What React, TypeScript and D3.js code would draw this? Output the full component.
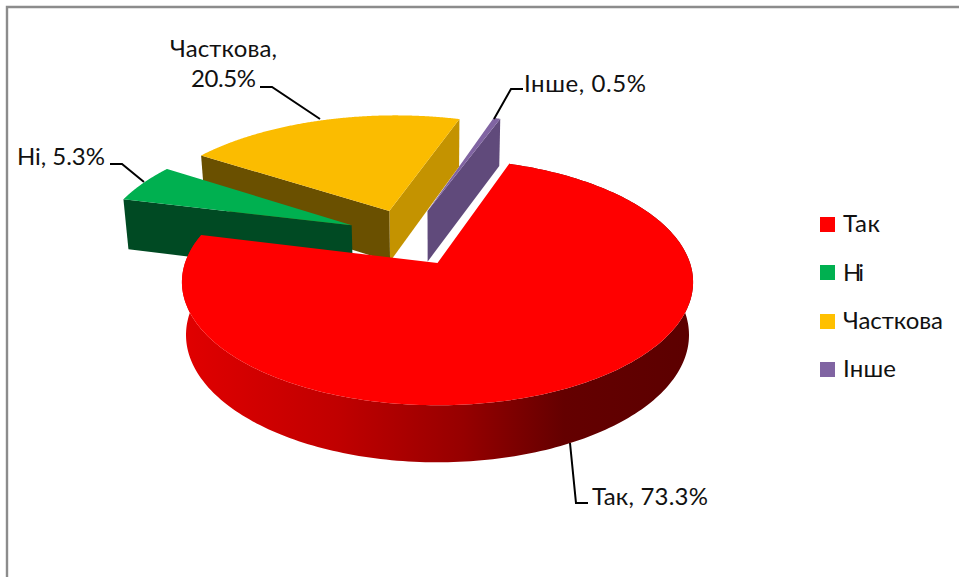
import React from "react";
import * as d3 from "d3";

const categories = ["Так", "Ні", "Часткова", "Інше"];
const values = [73.3, 5.3, 20.5, 0.5];
const percentLabels = ["73.3%", "5.3%", "20.5%", "0.5%"];

const topColors = ["#ff0000", "#00b050", "#fbbc00", "#8064a2"];
const FONT = "Lato, Carlito, Calibri, sans-serif";

// projection of the pie's plane (u right, v toward the viewer)
const CX = 437.5, CY = 263, RX = 252, RY = 120, K = 0.1545, SHRINK = 0.016;
const explode = [[0, 0], [-0.358, -0.33], [-0.205, -0.464], [-0.0425, -0.464]];
const radii = [1.002, 1.03, 1.055, 1.07];

type P = [number, number];
const project = (u: number, v: number, z = 0): P => {
  const w = 1 - K * v;
  return [CX + (RX * u / w) * (1 - SHRINK * z), CY + RY * v / w + (25.9 + 26.3 / w) * z];
};
const polar = (i: number, a: number, z = 0): P => {
  const [ox, oy] = explode[i];
  return project(ox + radii[i] * Math.sin(a), oy - radii[i] * Math.cos(a), z);
};
const apex = (i: number, z = 0): P => project(explode[i][0], explode[i][1], z);
const line = d3.line<P>();
const closed = (pts: P[]) => line(pts) + "Z";
const arcPts = (i: number, a0: number, a1: number, z = 0): P[] =>
  d3.range(0, 241).map((t) => polar(i, a0 + ((a1 - a0) * t) / 240, z));

const arcs = d3.pie<number>().sort(null).startAngle((19 * Math.PI) / 180).endAngle((379 * Math.PI) / 180)(values);

const radial = (i: number, a: number) =>
  closed([apex(i), polar(i, a), polar(i, a, 1), apex(i, 1)]);
const topFace = (i: number) =>
  closed([apex(i), ...arcPts(i, arcs[i].startAngle, arcs[i].endAngle)]);
// the rim as a run of small quads, so its silhouette follows both edges
const rim = (i: number) => {
  const { startAngle: a, endAngle: b } = arcs[i];
  const top = arcPts(i, a, b);
  const bottom = arcPts(i, a, b, 1);
  return top
    .slice(1)
    .map((p, k) => closed([top[k], p, bottom[k + 1], bottom[k]]))
    .join("");
};

const legendY = [217, 265, 314, 362];
const legendBase = [232, 281, 329, 377];
const legendWidths = [37, 21, 100, 53];

export default function App() {
  const textStyle = { fontFamily: FONT, fontSize: 24, fill: "#111" };
  const leader = { fill: "none", stroke: "#000", strokeWidth: 2 };
  return (
    <svg width={959} height={577} style={{ position: "fixed", left: 0, top: 0, background: "#fff" }}>
      <defs>
        <linearGradient id="rimGrad" gradientUnits="userSpaceOnUse" x1={186} x2={690} y1={0} y2={0}>
          <stop offset="0" stopColor="#e00000" />
          <stop offset="0.3" stopColor="#c00000" />
          <stop offset="0.55" stopColor="#960000" />
          <stop offset="0.75" stopColor="#640000" />
          <stop offset="1" stopColor="#5c0000" />
        </linearGradient>
      </defs>
      <path d="M7 577V7H959" fill="none" stroke="#8c8c8c" strokeWidth={2.4} />

      {/* Інше */}
      <path d={radial(3, arcs[3].endAngle)} fill="#604a7b" />
      <path d={topFace(3)} fill={topColors[3]} />
      {/* Часткова */}
      <path d={radial(2, arcs[2].endAngle)} fill="#c49300" />
      <path d={radial(2, arcs[2].startAngle)} fill="#6a5000" />
      <path d={topFace(2)} fill={topColors[2]} />
      {/* Ні */}
      <path d={radial(1, arcs[1].startAngle)} fill="#004a23" />
      <path d={topFace(1)} fill={topColors[1]} />
      {/* Так */}
      <path d={rim(0)} fill="url(#rimGrad)" />
      <path d={topFace(0)} fill={topColors[0]} />

      <path d="M260 87H272L320 119" {...leader} />
      <path d="M110 164H122L144 182" {...leader} />
      <path d="M523 89H511L494 119" {...leader} />
      <path d="M570 443L576 503H588" {...leader} />

      <text x={170} y={57} textLength={107} {...textStyle}>{categories[2]},</text>
      <text x={191} y={87} textLength={65} {...textStyle}>{percentLabels[2]}</text>
      <text x={17} y={165} textLength={88} {...textStyle}>{categories[1]}, {percentLabels[1]}</text>
      <text x={524} y={92} textLength={122} {...textStyle}>{categories[3]}, {percentLabels[3]}</text>
      <text x={592} y={505} textLength={116} {...textStyle}>{categories[0]}, {percentLabels[0]}</text>

      {categories.map((c, i) => (
        <g key={c}>
          <rect x={820} y={legendY[i]} width={15} height={15} fill={["#ff0000", "#00b050", "#ffc000", "#8064a2"][i]} />
          <text x={843} y={legendBase[i]} textLength={legendWidths[i]} {...textStyle}>{c}</text>
        </g>
      ))}
    </svg>
  );
}
